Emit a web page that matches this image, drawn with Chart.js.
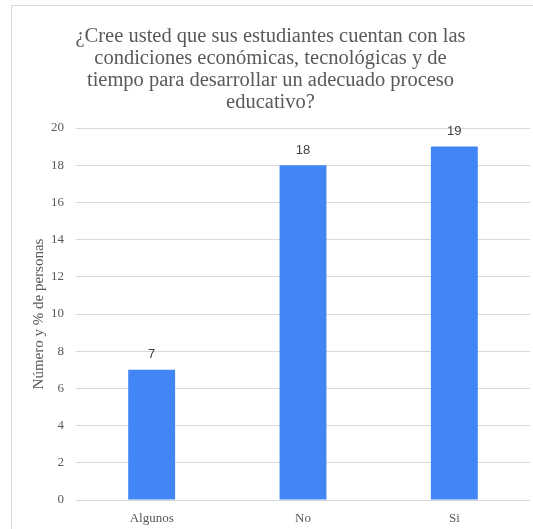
<!DOCTYPE html>
<html>
<head>
<meta charset="utf-8">
<script src="https://cdn.jsdelivr.net/npm/chart.js@4/dist/chart.umd.min.js"></script>
<style>
  body { margin: 0; background: #fff; overflow: hidden; }
  #box { position: absolute; left: 11px; top: 5px; width: 545px; height: 540px; border: 1px solid #d9d9d9; box-sizing: border-box; }
  #chart { position: absolute; left: -1px; top: -1px; }
</style>
</head>
<body>
<div id="box"><canvas id="chart" width="526" height="530"></canvas></div>
<script>
var categories = ['Algunos', 'No', 'Si'];
var respuestas = [7, 18, 19];
var yTicks = [0, 2, 4, 6, 8, 10, 12, 14, 16, 18, 20];

var serif = "'Liberation Serif', 'Times New Roman', serif";
var sans = "'Liberation Sans', Arial, sans-serif";

Chart.defaults.font.family = serif;
Chart.defaults.color = '#595959';

// numbers above each bar
var barValues = {
  id: 'barValues',
  afterDatasetsDraw: function (chart) {
    var ctx = chart.ctx;
    var meta = chart.getDatasetMeta(0);
    ctx.save();
    ctx.font = '13px ' + sans;
    ctx.fillStyle = '#404040';
    ctx.textAlign = 'center';
    ctx.textBaseline = 'middle';
    meta.data.forEach(function (bar, i) {
      ctx.fillText(chart.data.datasets[0].data[i], bar.x, bar.y - 15);
    });
    ctx.restore();
  }
};

new Chart(document.getElementById('chart'), {
  type: 'bar',
  data: {
    labels: categories,
    datasets: [{
      data: respuestas,
      backgroundColor: '#4285f4',
      barPercentage: 0.31,
      categoryPercentage: 1
    }]
  },
  options: {
    responsive: false,
    animation: false,
    layout: { padding: { left: 0, right: 7, top: 0, bottom: 0 } },
    plugins: {
      legend: { display: false },
      tooltip: { enabled: false },
      title: {
        display: true,
        text: [
          '¿Cree usted que sus estudiantes cuentan con las',
          'condiciones económicas, tecnológicas y de',
          'tiempo para desarrollar un adecuado proceso',
          'educativo?'
        ],
        color: '#595959',
        font: { family: serif, size: 20.5, style: 'normal', weight: 400, lineHeight: '22px' },
        padding: { top: 21, bottom: 14 }
      }
    },
    scales: {
      x: {
        grid: { display: false },
        border: { display: false },
        ticks: { color: '#595959', font: { family: serif, size: 13 }, padding: 3 },
        afterFit: function (scale) { scale.height = 35; }
      },
      y: {
        min: 0,
        max: 20,
        afterBuildTicks: function (scale) {
          scale.ticks = yTicks.map(function (v) { return { value: v }; });
        },
        grid: { color: '#d9d9d9', drawTicks: false },
        border: { display: false },
        ticks: { color: '#595959', font: { family: serif, size: 13 }, padding: 12 },
        title: {
          display: true,
          text: 'Número y % de personas',
          color: '#595959',
          font: { family: serif, size: 15 },
          padding: { top: 19, bottom: 0 }
        },
        afterFit: function (scale) { scale.width = 65; }
      }
    }
  },
  plugins: [barValues]
});
</script>
</body>
</html>
